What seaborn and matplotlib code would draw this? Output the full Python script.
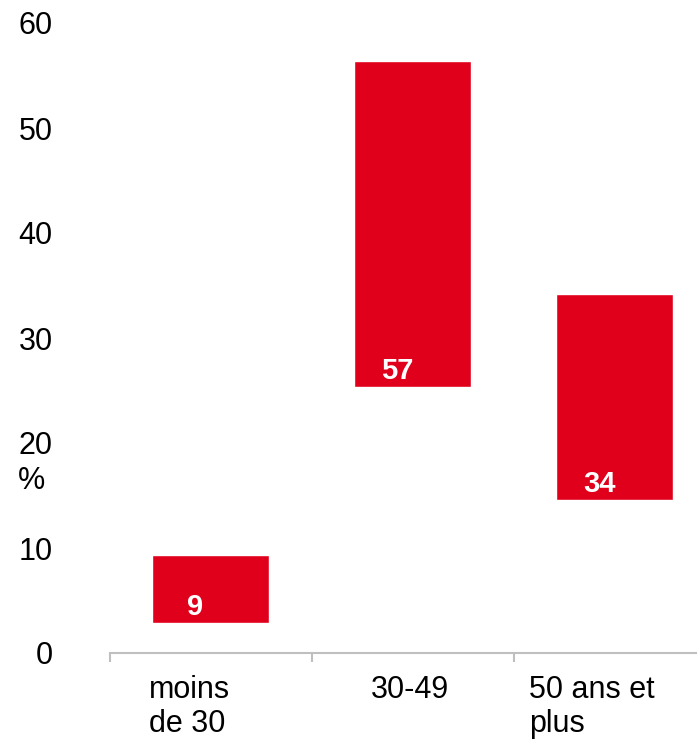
import matplotlib
matplotlib.use("Agg")
import matplotlib.pyplot as plt
import seaborn as sns
import pandas as pd
import numpy as np

categories = ["moins\nde 30", "30-49", "50 ans et\nplus"]
bar_tops = [9.3, 56.4, 34.2]
bar_bottoms = [2.9, 25.3, 14.6]
value_labels = ["9", "57", "34"]
yticks = [0, 10, 20, 30, 40, 50, 60]

RED = "#e0001b"

sns.set_style("white")
plt.rcParams["font.family"] = ["Liberation Sans", "DejaVu Sans"]
plt.rcParams["text.color"] = "black"
plt.rcParams["xtick.color"] = "black"
plt.rcParams["ytick.color"] = "black"

df = pd.DataFrame({
    "cat": categories,
    "height": np.array(bar_tops) - np.array(bar_bottoms),
})

fig = plt.figure(figsize=(6.97, 7.46), dpi=100)
ax = fig.add_axes([109.5 / 697, (746 - 653) / 746, 1 - 109.5 / 697, 630 / 746])

sns.barplot(data=df, x="cat", y="height", color=RED, width=0.58,
            bottom=bar_bottoms, saturation=1, ax=ax, order=categories)

for i, (b, lab) in enumerate(zip(bar_bottoms, value_labels)):
    ax.text(i - 0.074, b + 0.75, lab, ha="center", va="baseline",
            color="white", fontsize=21, fontweight="bold")

ax.set_ylim(0, 60)
ax.set_xlim(-0.5, -0.5 + 587.5 / 202)
ax.set_yticks(yticks)
ax.set_yticklabels([str(v) for v in yticks], fontsize=22, color="black")
ax.tick_params(axis="y", length=0, pad=41)

# category labels (left-aligned blocks)
label_pos = [-0.105, 0.985, 1.89]
ax.set_xticks(label_pos)
ax.set_xticklabels(categories, fontsize=22, multialignment="left",
                   linespacing=1.15, color="black")
ax.tick_params(axis="x", which="major", length=0, pad=16)
ax.set_xticks([-0.5, 0.5, 1.5], minor=True)
ax.tick_params(axis="x", which="minor", bottom=True, length=6.5, width=1.5,
               color="#bfbfbf")

ax.set_xlabel("")
ax.set_ylabel("")
for s in ["top", "right", "left"]:
    ax.spines[s].set_visible(False)
ax.spines["bottom"].set_color("#bfbfbf")
ax.spines["bottom"].set_linewidth(1.5)

fig.text(18 / 697, (746 - 481) / 746, "%", ha="left", va="center", fontsize=22,
         color="black")

fig.savefig("out.png", dpi=100)
